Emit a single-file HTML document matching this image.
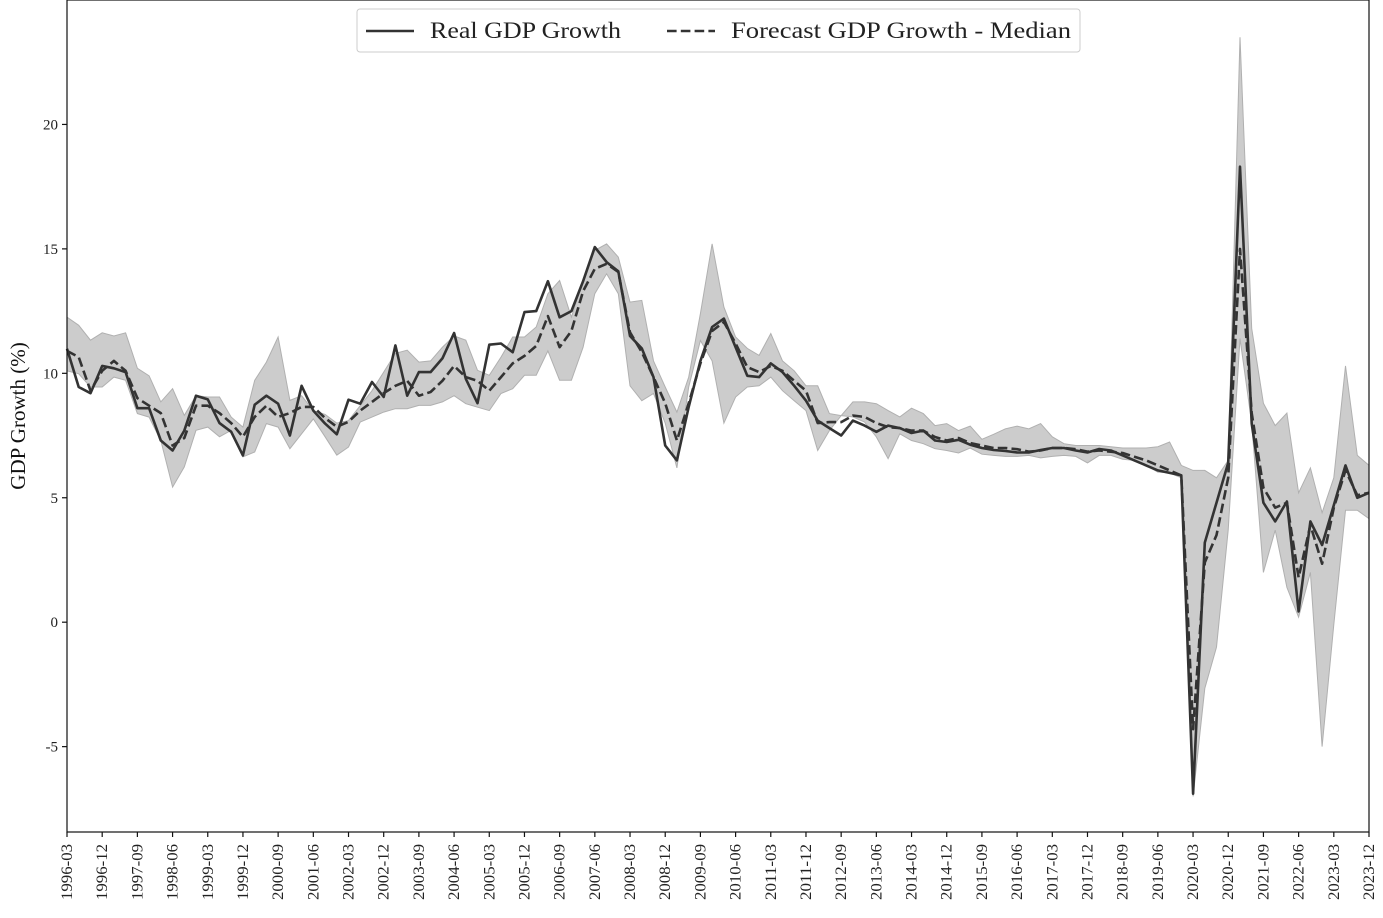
<!DOCTYPE html>
<html><head><meta charset="utf-8"><style>
html,body{margin:0;padding:0;background:#fff;}
svg{display:block;font-family:"Liberation Serif","DejaVu Serif",serif;}
</style></head><body>
<svg id="chart" width="1383" height="918" viewBox="0 0 1383 918" xmlns="http://www.w3.org/2000/svg">
<g id="band"></g>
<g id="lines"></g>
<rect x="67" y="0" width="1302" height="832" fill="none" stroke="#111" stroke-width="1.2"/>
<g id="yaxis"></g>
<g id="xaxis"></g>
<text transform="translate(25,416) rotate(-90)" text-anchor="middle" font-size="21" fill="#111">GDP Growth (%)</text>
<g>
<rect x="357" y="9" width="723" height="43" rx="3" fill="#fff" stroke="#ccc" stroke-width="1"/>
<g>
<line x1="366" y1="31" x2="414" y2="31" stroke="#333" stroke-width="2.6"/>
<text x="430" y="38" font-size="23" fill="#222" textLength="191" lengthAdjust="spacingAndGlyphs">Real GDP Growth</text></g>
<g>
<line x1="667" y1="31" x2="715" y2="31" stroke="#333" stroke-width="2.6" stroke-dasharray="9.6,4.2"/>
<text x="731" y="38" font-size="23" fill="#222" textLength="340" lengthAdjust="spacingAndGlyphs">Forecast GDP Growth - Median</text></g>
</g>
</svg>
<script>
const realGDP=[10.99,9.45,9.2,10.3,10.2,10.05,8.6,8.6,7.3,6.9,7.7,9.1,8.95,8.0,7.65,6.7,8.74,9.1,8.78,7.5,9.5,8.5,7.98,7.55,8.94,8.78,9.65,9.05,11.12,9.1,10.05,10.05,10.6,11.62,9.78,8.8,11.15,11.2,10.85,12.46,12.5,13.7,12.25,12.5,13.7,15.07,14.47,14.1,11.5,11.0,9.85,7.1,6.5,8.65,10.5,11.86,12.2,11.05,9.9,9.85,10.4,10.05,9.5,8.9,8.1,7.8,7.5,8.1,7.9,7.65,7.9,7.8,7.6,7.7,7.3,7.24,7.33,7.13,7.0,6.92,6.88,6.82,6.82,6.92,7.0,7.0,6.9,6.82,6.96,6.9,6.7,6.5,6.3,6.1,6.0,5.9,-6.89,3.2,4.8,6.4,18.3,7.98,4.8,4.05,4.85,0.43,4.05,3.1,4.7,6.3,5.0,5.2];
const medianGDP=[10.9,10.65,9.3,10.1,10.5,10.1,9.0,8.7,8.4,7.1,7.4,8.7,8.7,8.4,8.0,7.45,8.25,8.7,8.25,8.4,8.65,8.65,8.2,7.85,8.05,8.5,8.85,9.2,9.5,9.7,9.1,9.25,9.7,10.3,9.85,9.7,9.3,9.85,10.4,10.7,11.1,12.3,11.05,11.7,13.3,14.2,14.4,14.07,11.65,10.85,9.85,8.8,7.3,8.8,10.4,11.7,12.06,11.2,10.25,10.05,10.3,10.1,9.7,9.3,8.0,8.04,8.04,8.3,8.25,8.0,7.84,7.8,7.7,7.7,7.44,7.3,7.4,7.2,7.1,7.0,7.0,6.95,6.85,6.9,7.0,7.0,6.95,6.85,6.9,6.85,6.8,6.65,6.5,6.3,6.1,5.9,-4.3,2.4,3.5,5.8,15.0,8.4,5.4,4.6,4.8,1.8,3.9,2.35,4.6,6.1,5.1,5.2];
const upperBand=[12.26,11.93,11.33,11.63,11.5,11.63,10.2,9.9,8.85,9.38,8.31,9.1,9.05,9.05,8.24,7.84,9.72,10.45,11.46,8.91,9.1,8.5,8.35,8.0,8.1,8.7,9.3,10.05,10.8,10.93,10.45,10.5,11.05,11.5,11.33,10.12,9.92,10.65,11.46,11.46,11.86,13.2,13.73,12.26,13.73,14.94,15.2,14.67,12.86,12.93,10.5,9.45,8.44,9.85,12.4,15.2,12.66,11.46,11.0,10.72,11.6,10.5,10.1,9.5,9.5,8.38,8.3,8.85,8.85,8.78,8.5,8.25,8.6,8.38,7.9,7.98,7.7,7.88,7.35,7.55,7.77,7.88,7.77,7.98,7.45,7.17,7.1,7.1,7.1,7.05,7.0,7.0,7.0,7.05,7.24,6.3,6.1,6.1,5.8,6.5,23.5,11.8,8.8,7.9,8.4,5.2,6.2,4.4,5.8,10.3,6.7,6.3];
const lowerBand=[10.1,9.98,9.45,9.45,9.85,9.72,8.38,8.24,7.3,5.43,6.24,7.71,7.84,7.45,7.71,6.64,6.84,7.98,7.84,6.97,7.57,8.17,7.45,6.71,7.04,8.04,8.24,8.44,8.58,8.58,8.71,8.71,8.85,9.1,8.78,8.64,8.5,9.19,9.38,9.92,9.92,10.9,9.72,9.72,11.05,13.2,14.0,13.2,9.5,8.9,9.19,8.0,6.2,9.45,11.32,10.5,8.0,9.05,9.45,9.5,9.85,9.3,8.9,8.5,6.9,7.7,8.3,8.25,8.04,7.44,6.57,7.57,7.3,7.17,6.97,6.9,6.8,7.0,6.75,6.7,6.66,6.66,6.7,6.6,6.66,6.7,6.66,6.4,6.7,6.7,6.55,6.5,6.3,6.03,6.0,5.8,-7.0,-2.66,-1.0,3.7,11.4,8.0,2.0,3.7,1.4,0.2,2.0,-5.0,-0.1,4.5,4.5,4.16];
const yTicks=[-5,0,5,10,15,20];
const startYear=1996, startQuarter=0, quarterCount=realGDP.length, labelEvery=3;

const NS='http://www.w3.org/2000/svg';
const X0=67,X1=1369,Y0=0,Y1=832,VMIN=-8.43,VMAX=25;
function xs(i){return X0+(X1-X0)*i/(quarterCount-1);}
function ys(v){return Y1-(v-VMIN)/(VMAX-VMIN)*(Y1-Y0);}
function mk(tag,attrs,parent){const e=document.createElementNS(NS,tag);for(const k in attrs)e.setAttribute(k,attrs[k]);parent.appendChild(e);return e;}
const band=document.getElementById('band'),lines=document.getElementById('lines');
let d='';
upperBand.forEach((v,i)=>{d+=(i?'L':'M')+xs(i).toFixed(1)+','+ys(v).toFixed(1);});
for(let i=lowerBand.length-1;i>=0;i--)d+='L'+xs(i).toFixed(1)+','+ys(lowerBand[i]).toFixed(1);
const bp=mk('path',{d:d+'Z',fill:'#cccccc',stroke:'#b0b0b0','stroke-width':1},band);


function line(arr){return arr.map((v,i)=>(i?'L':'M')+xs(i).toFixed(1)+','+ys(v).toFixed(1)).join('');}
const rl=mk('path',{d:line(realGDP),fill:'none',stroke:'#333','stroke-width':2.6,'stroke-linejoin':'round'},lines);


const ml=mk('path',{d:line(medianGDP),fill:'none',stroke:'#333','stroke-width':2.6,'stroke-dasharray':'9.6,4.2','stroke-linejoin':'round'},lines);


const ya=document.getElementById('yaxis');
yTicks.forEach(t=>{const y=ys(t);
 const tk=mk('line',{x1:X0-5,x2:X0,y1:y,y2:y,stroke:'#111','stroke-width':1.2},ya);
 
 
 const tx=mk('text',{x:X0-9,y:y+5,'text-anchor':'end','font-size':15,fill:'#222'},ya);
 
 
 tx.textContent=t;});
const xa=document.getElementById('xaxis');
for(let i=0;i<quarterCount;i+=labelEvery){
 const q=startQuarter+i, yr=startYear+Math.floor(q/4), m=(q%4+1)*3;
 const lab=yr+'-'+(m<10?'0':'')+m, x=xs(i);
 const tk=mk('line',{x1:x,x2:x,y1:Y1,y2:Y1+5,stroke:'#111','stroke-width':1.2},xa);
 
 
 const tx=mk('text',{transform:'translate('+(x+5)+','+(Y1+12)+') rotate(-90)','text-anchor':'end','font-size':15.5,fill:'#222',textLength:56,lengthAdjust:'spacingAndGlyphs'},xa);
 
 
 tx.textContent=lab;}
</script>
</body></html>
